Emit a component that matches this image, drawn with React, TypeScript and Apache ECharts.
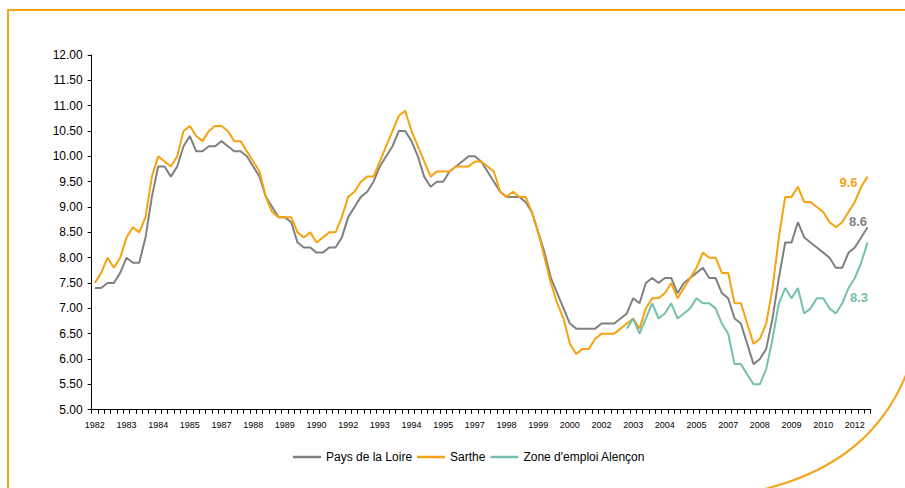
import React, { useEffect, useRef } from "react";
import * as echarts from "echarts";

const years = [
  1982, 1983, 1984, 1985, 1986, 1987, 1988, 1989, 1990, 1991, 1992, 1993, 1994, 1995, 1996, 1997,
  1998, 1999, 2000, 2001, 2002, 2003, 2004, 2005, 2006, 2007, 2008, 2009, 2010, 2011, 2012,
];
const quarterNames = ["T1", "T2", "T3", "T4"];

const paysDeLaLoire = [
  7.4, 7.4, 7.5, 7.5, 7.7, 8.0, 7.9, 7.9, 8.4, 9.2, 9.8, 9.8, 9.6, 9.8, 10.2, 10.4,
  10.1, 10.1, 10.2, 10.2, 10.3, 10.2, 10.1, 10.1, 10.0, 9.8, 9.6, 9.2, 9.0, 8.8, 8.8, 8.7,
  8.3, 8.2, 8.2, 8.1, 8.1, 8.2, 8.2, 8.4, 8.8, 9.0, 9.2, 9.3, 9.5, 9.8, 10.0, 10.2,
  10.5, 10.5, 10.3, 10.0, 9.6, 9.4, 9.5, 9.5, 9.7, 9.8, 9.9, 10.0, 10.0, 9.9, 9.7, 9.5,
  9.3, 9.2, 9.2, 9.2, 9.1, 8.9, 8.5, 8.1, 7.6, 7.3, 7.0, 6.7, 6.6, 6.6, 6.6, 6.6,
  6.7, 6.7, 6.7, 6.8, 6.9, 7.2, 7.1, 7.5, 7.6, 7.5, 7.6, 7.6, 7.3, 7.5, 7.6, 7.7,
  7.8, 7.6, 7.6, 7.3, 7.2, 6.8, 6.7, 6.3, 5.9, 6.0, 6.2, 6.8, 7.6, 8.3, 8.3, 8.7,
  8.4, 8.3, 8.2, 8.1, 8.0, 7.8, 7.8, 8.1, 8.2, 8.4, 8.6,
];

const sarthe = [
  7.5, 7.7, 8.0, 7.8, 8.0, 8.4, 8.6, 8.5, 8.8, 9.6, 10.0, 9.9, 9.8, 10.0, 10.5, 10.6,
  10.4, 10.3, 10.5, 10.6, 10.6, 10.5, 10.3, 10.3, 10.1, 9.9, 9.7, 9.2, 8.9, 8.8, 8.8, 8.8,
  8.5, 8.4, 8.5, 8.3, 8.4, 8.5, 8.5, 8.8, 9.2, 9.3, 9.5, 9.6, 9.6, 9.9, 10.2, 10.5,
  10.8, 10.9, 10.5, 10.2, 9.9, 9.6, 9.7, 9.7, 9.7, 9.8, 9.8, 9.8, 9.9, 9.9, 9.8, 9.7,
  9.3, 9.2, 9.3, 9.2, 9.2, 8.9, 8.5, 8.0, 7.5, 7.1, 6.8, 6.3, 6.1, 6.2, 6.2, 6.4,
  6.5, 6.5, 6.5, 6.6, 6.7, 6.8, 6.6, 7.0, 7.2, 7.2, 7.3, 7.5, 7.2, 7.4, 7.6, 7.8,
  8.1, 8.0, 8.0, 7.7, 7.7, 7.1, 7.1, 6.7, 6.3, 6.4, 6.7, 7.4, 8.4, 9.2, 9.2, 9.4,
  9.1, 9.1, 9.0, 8.9, 8.7, 8.6, 8.7, 8.9, 9.1, 9.4, 9.6,
];

// Zone d'emploi Alençon: available from 2003 T1 onwards
const alenconStart = "2003 T1";
const alencon = [
  6.6, 6.8, 6.5, 6.8, 7.1, 6.8, 6.9, 7.1, 6.8, 6.9, 7.0, 7.2, 7.1, 7.1, 7.0, 6.7,
  6.5, 5.9, 5.9, 5.7, 5.5, 5.5, 5.8, 6.4, 7.1, 7.4, 7.2, 7.4, 6.9, 7.0, 7.2, 7.2,
  7.0, 6.9, 7.1, 7.4, 7.6, 7.9, 8.3,
];

const seriesNames = ["Pays de la Loire", "Sarthe", "Zone d'emploi Alençon"];
const yTicks = { min: 5, max: 12, step: 0.5 };

const categories: string[] = years
  .flatMap((y) => quarterNames.map((q) => `${y} ${q}`))
  .slice(0, paysDeLaLoire.length);

const alenconIdx = categories.indexOf(alenconStart);
const alenconData = categories.map((_, i) =>
  i >= alenconIdx && i - alenconIdx < alencon.length ? alencon[i - alenconIdx] : null
);

const GRAY = "#808080";
const ORANGE = "#F7A20F";
const TEAL = "#74C0AF";
const FONT = "'Liberation Sans', Arial, Helvetica, sans-serif";

function endMark(cat: string, val: number, color: string, offset: number[]) {
  return {
    silent: true,
    symbol: "circle",
    symbolSize: 0,
    data: [{ coord: [cat, val], value: val }],
    label: {
      show: true,
      position: "inside",
      offset,
      formatter: (p: any) => Number(p.value).toFixed(1),
      color,
      fontWeight: "bold",
      fontSize: 13,
      fontFamily: FONT,
    },
  };
}

export default function App() {
  const ref = useRef<HTMLDivElement>(null);

  useEffect(() => {
    if (!ref.current) return;
    const chart = echarts.init(ref.current, undefined, { renderer: "svg" });
    const last = categories.length - 1;
    const option: any = {
      animation: false,
      backgroundColor: "#ffffff",
      textStyle: { fontFamily: FONT },
      grid: { left: 91.7, right: 34.3, top: 55, bottom: 78.3, containLabel: false },
      xAxis: {
        type: "category",
        data: categories,
        boundaryGap: true,
        axisLine: { show: true, lineStyle: { color: "#000", width: 1 } },
        axisTick: { show: true, interval: 0, length: 4, lineStyle: { color: "#000", width: 1 } },
        axisLabel: {
          interval: 4,
          formatter: (v: string) => v.slice(0, 4),
          fontSize: 9,
          color: "#000",
          margin: 11,
          fontFamily: FONT,
        },
        splitLine: { show: false },
      },
      yAxis: {
        type: "value",
        min: yTicks.min,
        max: yTicks.max,
        interval: yTicks.step,
        axisLine: { show: true, lineStyle: { color: "#000", width: 1 } },
        axisTick: { show: true, length: 4, lineStyle: { color: "#000", width: 1 } },
        axisLabel: {
          formatter: (v: number) => v.toFixed(2),
          fontSize: 12,
          color: "#000",
          margin: 9,
          fontFamily: FONT,
        },
        splitLine: { show: false },
      },
      legend: {
        data: seriesNames,
        left: 288,
        top: 446,
        icon: "rect",
        itemWidth: 28,
        itemHeight: 2.5,
        itemGap: 5,
        textStyle: { fontSize: 12, color: "#000", fontFamily: FONT },
      },
      series: [
        {
          name: seriesNames[0],
          type: "line",
          data: paysDeLaLoire,
          symbol: "none",
          lineStyle: { color: GRAY, width: 2 },
          itemStyle: { color: GRAY },
          markPoint: endMark(categories[last], paysDeLaLoire[last], GRAY, [-9.5, -6]),
        },
        {
          name: seriesNames[1],
          type: "line",
          data: sarthe,
          symbol: "none",
          lineStyle: { color: ORANGE, width: 2 },
          itemStyle: { color: ORANGE },
          markPoint: endMark(categories[last], sarthe[last], ORANGE, [-19, 5.5]),
        },
        {
          name: seriesNames[2],
          type: "line",
          data: alenconData,
          symbol: "none",
          connectNulls: false,
          lineStyle: { color: TEAL, width: 2 },
          itemStyle: { color: TEAL },
          markPoint: endMark(categories[last], alencon[alencon.length - 1], TEAL, [-8.5, 55]),
        },
      ],
      graphic: [
        {
          type: "polyline",
          silent: true,
          shape: { points: [[905, 10], [8, 10], [8, 488]] },
          style: { stroke: "#F5A31A", lineWidth: 2, fill: "none" },
        },
        {
          type: "bezierCurve",
          silent: true,
          shape: { x1: 765, y1: 489, cpx1: 840, cpy1: 470, cpx2: 885, cpy2: 430, x2: 908, y2: 370 },
          style: { stroke: "#F5A31A", lineWidth: 2, fill: "none" },
        },
      ],
    };
    chart.setOption(option);
    return () => chart.dispose();
  }, []);

  return (
    <div
      ref={ref}
      style={{ position: "fixed", left: 0, top: 0, width: 905, height: 488, background: "#fff" }}
    />
  );
}
